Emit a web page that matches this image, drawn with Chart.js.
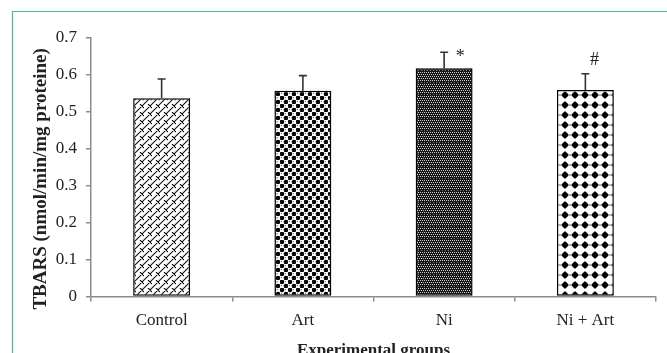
<!DOCTYPE html>
<html><head><meta charset="utf-8">
<script src="https://cdn.jsdelivr.net/npm/chart.js@4"></script>
<style>html,body{margin:0;padding:0;background:#fff;overflow:hidden}#wrap{width:667px;height:353px;position:relative}</style>
</head><body><div id="wrap"><canvas id="c" width="667" height="353"></canvas></div>
<script>
const categories = ['Control', 'Art', 'Ni', 'Ni + Art'];
const tbarsMean = [0.536, 0.556, 0.617, 0.558];
const tbarsSEM = [0.052, 0.041, 0.043, 0.044];
const significance = ['', '', '*', '#'];
const yTickLabels = ['0', '0.1', '0.2', '0.3', '0.4', '0.5', '0.6', '0.7'];

function makeTile(w, h, draw) {
  const c = document.createElement('canvas');
  c.width = w; c.height = h;
  const g = c.getContext('2d');
  draw(g, w, h);
  return g.createPattern(c, 'repeat');
}
const patControl = makeTile(8, 8, (g, w, h) => {
  g.fillStyle = '#fff'; g.fillRect(0, 0, w, h);
  g.strokeStyle = '#111'; g.lineWidth = 1.1;
  g.beginPath();
  g.moveTo(-1, 9); g.lineTo(9, -1);
  g.moveTo(-1, 1); g.lineTo(1, -1);
  g.moveTo(7, 9); g.lineTo(9, 7);
  g.moveTo(4, 0); g.lineTo(8, 4);
  g.stroke();
});
const patArt = makeTile(8, 8, (g, w, h) => {
  g.fillStyle = '#fff'; g.fillRect(0, 0, w, h);
  g.fillStyle = '#000';
  [[2, 2], [6, 6]].forEach(([x, y]) => { g.beginPath(); g.arc(x, y, 2.3, 0, Math.PI * 2); g.fill(); });
  g.fillStyle = '#777';
  g.fillRect(5, 1, 1, 1); g.fillRect(1, 5, 1, 1);
});
const patNi = makeTile(6, 12, (g, w, h) => {
  g.fillStyle = '#161616'; g.fillRect(0, 0, w, h);
  g.fillStyle = '#d0d0d0';
  for (let y = 0; y <= 8; y += 2) for (let x = 0; x < 6; x += 2) g.fillRect(x + (y % 4 ? 1 : 0), y, 1, 1);
  g.fillStyle = '#888';
  g.fillRect(1, 10, 1, 1); g.fillRect(4, 10, 1, 1);
});
const patNiArt = makeTile(10, 10, (g, w, h) => {
  g.fillStyle = '#fff'; g.fillRect(0, 0, w, h);
  g.strokeStyle = '#444'; g.lineWidth = 0.8;
  g.beginPath(); g.moveTo(0, 5); g.lineTo(10, 5); g.stroke();
  g.fillStyle = '#000';
  g.beginPath(); g.arc(5, 5, 2.8, 0, Math.PI * 2); g.fill();
  g.beginPath(); g.moveTo(5, 1); g.lineTo(8.5, 5); g.lineTo(5, 9); g.lineTo(1.5, 5); g.closePath(); g.fill();
});

const AXIS = '#8c8c8c';
const TEXT = '#222';
const SERIF = "'Liberation Serif', 'DejaVu Serif', serif";

const framePlugin = {
  id: 'frame',
  beforeDraw(chart) {
    const ctx = chart.ctx;
    ctx.save();
    ctx.fillStyle = '#fff';
    ctx.fillRect(0, 0, chart.width, chart.height);
    ctx.strokeStyle = '#4ab59a';
    ctx.lineWidth = 1.2;
    ctx.beginPath();
    ctx.moveTo(12.5, 353); ctx.lineTo(12.5, 11.5); ctx.lineTo(667, 11.5);
    ctx.stroke();
    ctx.restore();
  }
};

const errorPlugin = {
  id: 'errbars',
  afterDatasetsDraw(chart) {
    const ctx = chart.ctx;
    const meta = chart.getDatasetMeta(0);
    const ys = chart.scales.y;
    ctx.save();
    ctx.strokeStyle = '#333';
    ctx.lineWidth = 1.6;
    meta.data.forEach((bar, i) => {
      const top = ys.getPixelForValue(tbarsMean[i] + tbarsSEM[i]);
      const base = ys.getPixelForValue(tbarsMean[i]);
      ctx.beginPath();
      ctx.moveTo(bar.x, base); ctx.lineTo(bar.x, top);
      ctx.moveTo(bar.x - 4, top); ctx.lineTo(bar.x + 4, top);
      ctx.stroke();
      const s = significance[i];
      if (s) {
        ctx.fillStyle = TEXT;
        ctx.font = '18px ' + SERIF;
        ctx.textAlign = 'center';
        ctx.textBaseline = 'middle';
        if (s === '*') ctx.fillText(s, bar.x + 16, top + 5);
        else ctx.fillText(s, bar.x + 9, top - 13);
      }
    });
    ctx.restore();
  }
};

new Chart(document.getElementById('c'), {
  type: 'bar',
  data: {
    labels: categories,
    datasets: [{
      data: tbarsMean,
      backgroundColor: [patControl, patArt, patNi, patNiArt],
      borderColor: '#000',
      borderWidth: 1.5,
      borderSkipped: false,
      barPercentage: 0.403,
      categoryPercentage: 1.0
    }]
  },
  options: {
    responsive: false,
    animation: false,
    devicePixelRatio: 1,
    layout: { padding: { top: 37.5, right: 11, left: 0, bottom: 0 } },
    plugins: { legend: { display: false }, tooltip: { enabled: false } },
    scales: {
      x: {
        grid: { display: true, drawOnChartArea: false, offset: true, tickLength: 5, color: AXIS, lineWidth: 1.5 },
        border: { color: AXIS, width: 1.5 },
        ticks: { color: TEXT, font: { family: SERIF, size: 17 }, padding: 9, maxRotation: 0 },
        title: { display: true, text: 'Experimental groups', color: TEXT, font: { family: SERIF, size: 17, weight: 'bold', lineHeight: 0.3 }, padding: 0 },
        afterFit(s) { s.height = 56.5; }
      },
      y: {
        min: 0, max: 0.7,
        grid: { display: true, drawOnChartArea: false, tickLength: 5, color: AXIS, lineWidth: 1.5 },
        border: { color: AXIS, width: 1.5 },
        ticks: { stepSize: 0.1, color: TEXT, font: { family: SERIF, size: 17 }, padding: 9,
          callback: (v, i) => yTickLabels[i] },
        title: { display: true, text: 'TBARS (nmol/min/mg proteine)\u00A0\u00A0\u00A0\u00A0\u00A0', color: TEXT,
          font: { family: SERIF, size: 19, weight: 'bold', lineHeight: 1.2 }, padding: { top: 30, bottom: 0 } },
        afterFit(s) { s.width = 91; }
      }
    }
  },
  plugins: [framePlugin, errorPlugin]
});
</script></body></html>
